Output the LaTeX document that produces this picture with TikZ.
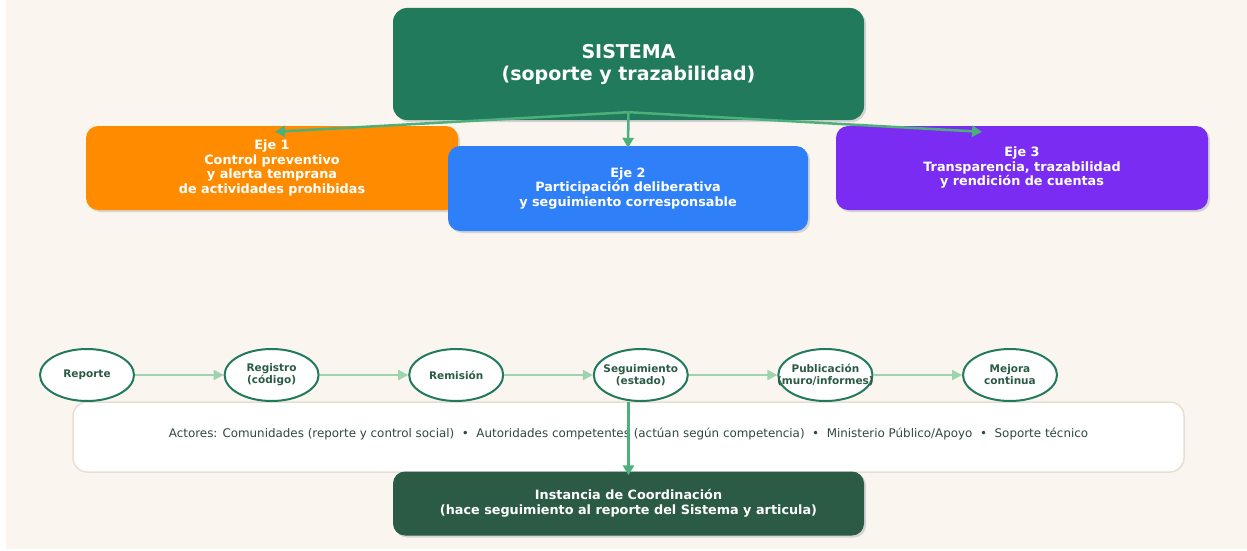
\documentclass[tikz,border=0pt]{standalone}
\usepackage{fontspec}
\setmainfont{DejaVu Sans}
\usepackage{tikz}
\usetikzlibrary{shapes.geometric, arrows.meta, shadows}
\usepackage{xcolor}
\definecolor{bgcream}{HTML}{FAF5EF}
\definecolor{sisgreen}{HTML}{217A5C}
\definecolor{darkgreen}{HTML}{2B5B45}
\definecolor{ejeorange}{HTML}{FF8C00}
\definecolor{ejeblue}{HTML}{2E7FF8}
\definecolor{ejepurple}{HTML}{7B2CF2}
\definecolor{arrowgreen}{HTML}{4DAF7A}
\definecolor{flowgreen}{HTML}{9DD3AE}
\definecolor{boxline}{HTML}{E8DFD3}
\definecolor{actortext}{HTML}{2F4A3C}
\tikzstyle{sistema} = [rectangle, rounded corners=14pt, 
minimum width=471pt, 
minimum height=112pt,
text centered, align=center,
fill=sisgreen, text=white,
font=\bfseries\fontsize{19}{22}\selectfont,
drop shadow={shadow xshift=2pt, shadow yshift=-2pt, fill=black!25, opacity=0.6}]
\tikzstyle{eje} = [rectangle, rounded corners=12pt, 
minimum width=372pt, 
minimum height=84pt,
text centered, align=center,
text=white,
font=\bfseries\fontsize{12.8}{14.5}\selectfont,
drop shadow={shadow xshift=2pt, shadow yshift=-2pt, fill=black!25, opacity=0.6}]
\tikzstyle{stepnode} = [ellipse, 
minimum width=94pt, 
minimum height=52pt,
inner xsep=-15pt, inner ysep=0pt,
align=center,
draw=sisgreen, line width=2pt, fill=white,
text=darkgreen,
font=\bfseries\fontsize{10.5}{12}\selectfont]
\tikzstyle{actores} = [rectangle, rounded corners=14pt, 
minimum width=1111pt, 
minimum height=70pt,
text height=9pt, text depth=9pt,
draw=boxline, line width=1.5pt, fill=white,
text=actortext,
font=\fontsize{11.9}{13}\selectfont]
\tikzstyle{arrow} = [line width=2.5pt, draw=arrowgreen, -{Triangle[length=10pt,width=11pt]}]
\tikzstyle{flow} = [line width=2.2pt, draw=flowgreen, -{Triangle[length=10pt,width=10pt]}]

\begin{document}
\begin{tikzpicture}[x=1pt, y=-1pt, node distance=184.6pt]
	\useasboundingbox (0,0) rectangle (1247,551);
	\fill [white] (0,0) rectangle (1247,551);
	\fill [bgcream] (6,0) rectangle (1247,549);
	
	\node (sis) [sistema] at (628.5,64) {SISTEMA\\(soporte y trazabilidad)};
	
	\node (eje1) [eje, fill=ejeorange] at (272,168) {Eje 1\\Control preventivo\\y alerta temprana\\de actividades prohibidas};
	\node (eje3) [eje, fill=ejepurple] at (1022,168) {Eje 3\\Transparencia, trazabilidad\\y rendición de cuentas};
	\node (eje2) [eje, fill=ejeblue, minimum width=360pt, minimum height=85pt] at (628,188.5) {Eje 2\\Participación deliberativa\\y seguimiento corresponsable};
	
	\coordinate (hub) at ([yshift=8pt]sis.south);
	\draw [arrow] (hub) -- ([xshift=3pt,yshift=-6pt]eje1.north);
	\draw [arrow] (hub) -- ([yshift=-2pt]eje2.north);
	\draw [arrow] (hub) -- ([xshift=-40pt,yshift=-6pt]eje3.north);
	
	% actores y coordinacion
	\node (act) [actores] at (628.5,437) {Actores: Comunidades (reporte y control social) \ • \ Autoridades competentes (actúan según competencia) \ • \ Ministerio Público/Apoyo \ • \ Soporte técnico};
	\node (coord) [sistema, fill=darkgreen, minimum height=64pt, rounded corners=12pt, font=\bfseries\fontsize{12.8}{14.5}\selectfont] at (628.5,503.5) {Instancia de Coordinación\\(hace seguimiento al reporte del Sistema y articula)};
	
	% flujo del reporte
	\node (rep) [stepnode] at (87,375) {Reporte};
	\node (reg) [stepnode, right of=rep] {Registro\\(código)};
	\node (rem) [stepnode, right of=reg] {Remisión};
	\node (seg) [stepnode, right of=rem] {Seguimiento\\(estado)};
	\node (pub) [stepnode, right of=seg] {Publicación\\(muro/informes)};
	\node (mej) [stepnode, right of=pub] {Mejora\\continua};
	
	\draw [flow] (rep) -- (reg);
	\draw [flow] (reg) -- (rem);
	\draw [flow] (rem) -- (seg);
	\draw [flow] (seg) -- (pub);
	\draw [flow] (pub) -- (mej);
	
	\draw [arrow] (seg.south -| sis.south) -- ([yshift=-4pt]coord.north);
	
\end{tikzpicture}
\end{document}
